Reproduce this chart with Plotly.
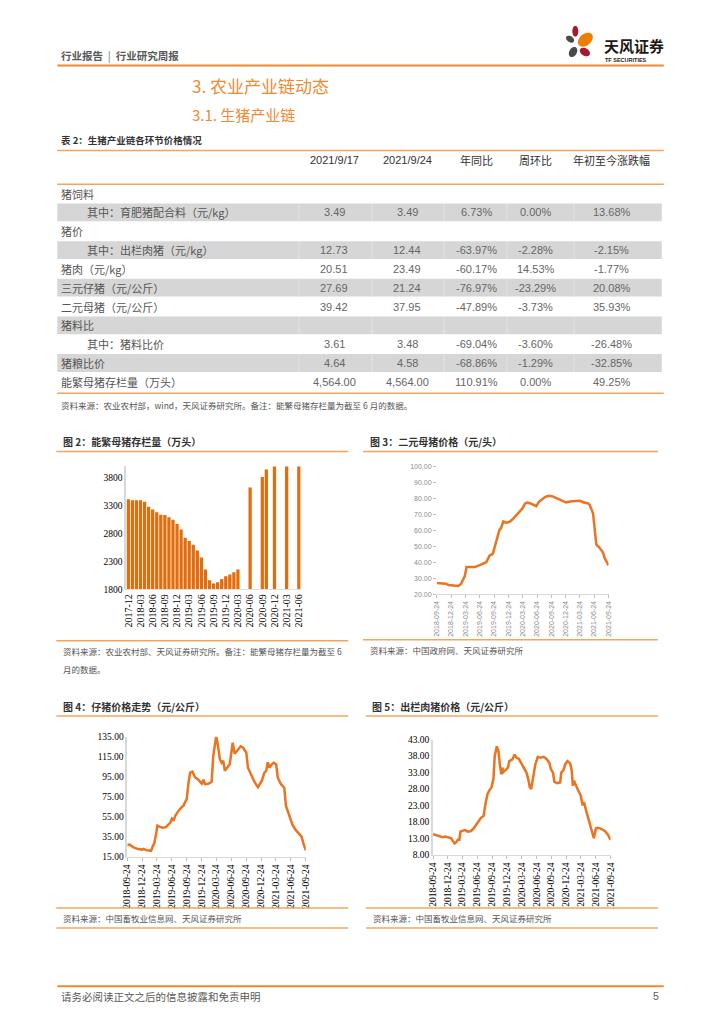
import math
import plotly.graph_objects as go

W, H = 724, 1024
CJK = "Noto Sans CJK SC"
SERIF = "Liberation Serif"
SANS = "Liberation Sans"
ORANGE_BAR = "#E46C0A"
ORANGE_LINE = "#EA7420"
RULE = "#F5A45C"

# ---------------- data ----------------
months_c2 = ["2017-12", "2018-01", "2018-02", "2018-03", "2018-04", "2018-05", "2018-06",
             "2018-07", "2018-08", "2018-09", "2018-10", "2018-11", "2018-12", "2019-01",
             "2019-02", "2019-03", "2019-04", "2019-05", "2019-06", "2019-07", "2019-08",
             "2019-09", "2019-10", "2019-11", "2019-12", "2020-01", "2020-02", "2020-03",
             "2020-04", "2020-05", "2020-06", "2020-07", "2020-08", "2020-09", "2020-10",
             "2020-11", "2020-12", "2021-01", "2021-02", "2021-03", "2021-04", "2021-05",
             "2021-06"]
sows_c2 = [3420, 3400, 3400, 3400, 3375, 3285, 3235, 3185, 3140, 3135, 3095, 3050, 2975, 2875,
           2725, 2670, 2600, 2495, 2370, 2155, 1960, 1905, 1925, 1985, 2035, 2065, 2105, 2155,
           None, None, 3630, None, None, 3820, 3955, None, 4161, None, None, 4318, None, None,
           4564]
ticks_c2 = ["2017-12", "2018-03", "2018-06", "2018-09", "2018-12", "2019-03", "2019-06",
            "2019-09", "2019-12", "2020-03", "2020-06", "2020-09", "2020-12", "2021-03", "2021-06"]
yticks_c2 = [1800, 2300, 2800, 3300, 3800]

dates_c3 = ["2018-09-24", "2018-10-25", "2018-11-20", "2018-12-06", "2018-12-27", "2019-01-28",
            "2019-02-07", "2019-02-24", "2019-03-11", "2019-03-21", "2019-04-01", "2019-04-22",
            "2019-05-23", "2019-06-24", "2019-07-15", "2019-08-05", "2019-08-26", "2019-09-16",
            "2019-09-26", "2019-10-17", "2019-10-28", "2019-11-07", "2019-11-22", "2019-12-09",
            "2019-12-30", "2020-01-20", "2020-02-10", "2020-03-02", "2020-03-23", "2020-04-09",
            "2020-04-23", "2020-05-14", "2020-06-04", "2020-06-19", "2020-07-06", "2020-07-27",
            "2020-08-17", "2020-09-07", "2020-09-28", "2020-10-19", "2020-11-09", "2020-11-30",
            "2020-12-27", "2021-01-21", "2021-02-22", "2021-03-25", "2021-04-15", "2021-05-17",
            "2021-05-27", "2021-06-17", "2021-06-28", "2021-07-08", "2021-07-25", "2021-08-09",
            "2021-08-19", "2021-08-30", "2021-09-09", "2021-09-24"]
sow_price_c3 = [27.0, 27.0, 26.6, 25.8, 25.6, 25.4, 25.2, 26.4, 29.3, 31.4, 37.0, 37.1,
                37.0, 38.2, 39.0, 40.0, 44.2, 45.4, 48.9, 56.2, 60.3, 61.3, 65.5, 64.8,
                65.2, 66.9, 69.0, 71.7, 73.7, 76.8, 77.4, 76.8, 75.6, 75.2, 77.9, 79.5,
                81.0, 81.6, 81.4, 80.5, 79.5, 78.3, 77.4, 78.0, 78.3, 78.5, 77.6, 76.8,
                75.8, 70.6, 60.3, 51.0, 49.5, 47.5, 46.2, 42.7, 40.7, 37.95]

dates_c4 = ["2018-09-24", "2018-10-08", "2018-11-04", "2018-11-30", "2018-12-24", "2019-01-03",
            "2019-01-18", "2019-02-07", "2019-02-17", "2019-02-27", "2019-03-09", "2019-03-20",
            "2019-03-28", "2019-04-09", "2019-04-29", "2019-05-20", "2019-06-05", "2019-06-15",
            "2019-06-25", "2019-07-05", "2019-07-15", "2019-08-05", "2019-08-25", "2019-09-04",
            "2019-09-14", "2019-09-24", "2019-10-05", "2019-10-15", "2019-10-29", "2019-11-14",
            "2019-12-04", "2019-12-25", "2020-01-04", "2020-01-14", "2020-02-03", "2020-02-24",
            "2020-03-05", "2020-03-15", "2020-03-23", "2020-03-31", "2020-04-14", "2020-04-25",
            "2020-05-05", "2020-05-15", "2020-05-29", "2020-06-14", "2020-06-24", "2020-07-02",
            "2020-07-15", "2020-08-04", "2020-08-20", "2020-09-04", "2020-09-24", "2020-10-04",
            "2020-10-24", "2020-11-14", "2020-12-04", "2020-12-14", "2020-12-28", "2021-01-13",
            "2021-01-24", "2021-02-03", "2021-02-13", "2021-02-27", "2021-03-11", "2021-03-26",
            "2021-04-05", "2021-04-25", "2021-05-15", "2021-05-25", "2021-06-09", "2021-06-25",
            "2021-07-05", "2021-07-25", "2021-08-15", "2021-08-29", "2021-09-10", "2021-09-24"]
piglet_c4 = [26.6, 27.0, 24.0, 22.5, 22.0, 22.8, 21.5, 20.6, 20.8, 25.0, 28.5, 38.0,
             46.0, 45.0, 44.0, 44.5, 47.5, 49.0, 53.0, 51.0, 55.5, 61.0, 64.5, 66.0,
             69.5, 72.5, 89.0, 99.0, 100.0, 94.5, 92.0, 88.0, 92.0, 87.5, 88.0, 90.0,
             116.0, 125.0, 135.5, 129.0, 113.0, 109.0, 111.0, 101.0, 104.0, 107.5, 119.0, 129.0,
             118.0, 122.0, 125.5, 124.0, 119.0, 104.0, 96.0, 89.5, 84.5, 87.5, 91.0, 99.0,
             101.0, 109.5, 104.0, 107.5, 109.0, 107.5, 94.0, 87.5, 84.0, 66.0, 58.0, 51.5,
             46.5, 41.5, 38.0, 35.0, 28.0, 21.24]

dates_c5 = ["2018-09-24", "2018-10-14", "2018-11-04", "2018-11-24", "2018-12-08", "2018-12-25",
            "2019-01-14", "2019-01-24", "2019-02-04", "2019-02-14", "2019-02-24", "2019-03-06",
            "2019-03-12", "2019-03-27", "2019-04-10", "2019-04-26", "2019-05-17", "2019-06-02",
            "2019-06-16", "2019-06-30", "2019-07-17", "2019-08-02", "2019-08-16", "2019-08-27",
            "2019-09-06", "2019-09-20", "2019-10-02", "2019-10-10", "2019-10-23", "2019-11-02",
            "2019-11-12", "2019-11-20", "2019-11-26", "2019-12-03", "2019-12-17", "2019-12-31",
            "2020-01-08", "2020-01-27", "2020-02-10", "2020-02-22", "2020-03-07", "2020-03-24",
            "2020-04-07", "2020-04-23", "2020-05-04", "2020-05-14", "2020-05-22", "2020-06-03",
            "2020-06-17", "2020-07-02", "2020-07-18", "2020-08-07", "2020-08-28", "2020-09-11",
            "2020-09-21", "2020-10-04", "2020-10-12", "2020-10-28", "2020-11-17", "2020-11-24",
            "2020-12-08", "2020-12-18", "2021-01-01", "2021-01-18", "2021-01-28", "2021-02-03",
            "2021-02-11", "2021-02-23", "2021-03-10", "2021-03-24", "2021-04-05", "2021-04-13",
            "2021-04-26", "2021-05-10", "2021-05-20", "2021-05-30", "2021-06-13", "2021-06-26",
            "2021-07-10", "2021-07-30", "2021-08-20", "2021-09-09", "2021-09-24"]
hog_c5 = [14.2, 14.0, 13.6, 13.3, 13.5, 13.3, 13.0, 12.2, 11.4, 11.8, 12.5, 12.5,
          15.0, 15.3, 15.5, 15.0, 15.2, 16.0, 17.2, 18.0, 19.2, 19.8, 24.0, 26.5,
          27.5, 28.5, 31.0, 38.0, 41.0, 39.5, 35.0, 32.5, 34.5, 33.2, 33.8, 34.5,
          36.5, 37.0, 38.5, 37.5, 37.2, 35.5, 34.5, 33.0, 31.0, 28.5, 28.0, 32.0,
          35.5, 37.8, 37.5, 37.8, 37.0, 36.0, 34.0, 33.0, 30.2, 29.8, 30.0, 33.0,
          33.8, 35.5, 36.5, 35.8, 33.5, 29.0, 30.5, 29.0, 27.5, 26.0, 23.0, 24.0,
          21.5, 19.0, 18.0, 16.0, 13.0, 16.0, 16.2, 15.8, 15.2, 14.0, 12.44]

date_ticks = ["2018-09-24", "2018-12-24", "2019-03-24", "2019-06-24", "2019-09-24", "2019-12-24",
              "2020-03-24", "2020-06-24", "2020-09-24", "2020-12-24", "2021-03-24", "2021-06-24",
              "2021-09-24"]
yticks_c3 = [20, 30, 40, 50, 60, 70, 80, 90, 100]
yticks_c4 = [15, 35, 55, 75, 95, 115, 135]
yticks_c5 = [8, 13, 18, 23, 28, 33, 38, 43]

table_header = ["2021/9/17", "2021/9/24", "年同比", "周环比", "年初至今涨跌幅"]
row_labels = ["猪饲料", "其中：育肥猪配合料（元/kg）", "猪价", "其中：出栏肉猪（元/kg）",
              "猪肉（元/kg）", "三元仔猪（元/公斤）", "二元母猪（元/公斤）", "猪料比",
              "其中：猪料比价", "猪粮比价", "能繁母猪存栏量（万头）"]
col_0917 = ["", "3.49", "", "12.73", "20.51", "27.69", "39.42", "", "3.61", "4.64", "4,564.00"]
col_0924 = ["", "3.49", "", "12.44", "23.49", "21.24", "37.95", "", "3.48", "4.58", "4,564.00"]
col_yoy = ["", "6.73%", "", "-63.97%", "-60.17%", "-76.97%", "-47.89%", "", "-69.04%", "-68.86%", "110.91%"]
col_wow = ["", "0.00%", "", "-2.28%", "14.53%", "-23.29%", "-3.73%", "", "-3.60%", "-1.29%", "0.00%"]
col_ytd = ["", "13.68%", "", "-2.15%", "-1.77%", "20.08%", "35.93%", "", "-26.48%", "-32.85%", "49.25%"]
indented_rows = [1, 3, 8]
shaded_rows = [1, 3, 5, 7, 9]


# ---------------- helpers ----------------
def px(x):
    return x / W


def py(y):
    return 1 - y / H


annotations = []
shapes = []


def txt(x, y, s, size, color="#404040", family=CJK, anchor="left", bold=False):
    annotations.append(dict(
        x=px(x), y=py(y), xref="paper", yref="paper", text=("<b>%s</b>" % s) if bold else s,
        showarrow=False, xanchor=anchor, yanchor="middle",
        font=dict(family=family, size=size, color=color), borderpad=0))


def hline(x0, x1, y, color=RULE, width=1.5):
    shapes.append(dict(type="line", xref="paper", yref="paper", x0=px(x0), x1=px(x1),
                       y0=py(y), y1=py(y), line=dict(color=color, width=width)))


def rect(x0, x1, y0, y1, color):
    shapes.append(dict(type="rect", xref="paper", yref="paper", x0=px(x0), x1=px(x1),
                       y0=py(y1), y1=py(y0), fillcolor=color, line=dict(width=0), layer="below"))


def petal(cx, cy, rx, ry, ang, color, n=36):
    a = math.radians(ang)
    pts = []
    for i in range(n):
        t = 2 * math.pi * i / n
        ex, ey = rx * math.cos(t), ry * math.sin(t)
        X = cx + ex * math.cos(a) - ey * math.sin(a)
        Y = cy + ex * math.sin(a) + ey * math.cos(a)
        pts.append("%.5f,%.5f" % (px(X), py(Y)))
    shapes.append(dict(type="path", xref="paper", yref="paper",
                       path="M" + " L".join(pts) + " Z", fillcolor=color, line=dict(width=0)))


# ---------------- page header ----------------
txt(56, 51, "行业报告 <span style='color:#999999'> | </span> 行业研究周报", 10.5, "#595959", bold=True)
hline(53, 668, 61, "#EE8B2E", 2)
petal(578.3, 26.5, 3.0, 5.5, 0, "#A6192E")
petal(573.0, 34.5, 4.5, 3.0, 35, "#4A4A4A")
petal(588.5, 35.0, 8.5, 5.8, -40, "#EE7D00")
petal(576.0, 47.5, 5.5, 3.8, -60, "#4A4A4A")
petal(588.0, 47.5, 5.5, 3.8, 30, "#A6192E")
txt(606, 41, "天风证券", 15, "#231815", bold=True)
txt(607, 56, "TF SECURITIES", 5.5, "#231815", family=SANS, bold=True)

txt(189, 81, "3. 农业产业链动态", 17, "#F08A32")
txt(189, 111, "3.1. 生猪产业链", 15, "#F08A32")

# ---------------- table ----------------
txt(56, 136, "表 2：生猪产业链各环节价格情况", 9.5, "#333333", bold=True)
hline(53, 668, 147)
hline(53, 668, 181)
hline(53, 668, 392)
col_x = [334, 408, 478, 538, 615]
for cx, h in zip(col_x, table_header):
    txt(cx, 157, h, 11, "#333333", family=CJK if not h[0].isdigit() else SANS, anchor="center")

row_h = 19
top = 181
for i, lab in enumerate(row_labels):
    yc = top + row_h * (i + 0.5)
    if i in shaded_rows:
        rect(53, 666, top + row_h * i + 0.5, top + row_h * (i + 1) - 0.5, "#D6D6D6")
        for sx in [298, 372, 445, 509, 577]:
            shapes.append(dict(type="line", xref="paper", yref="paper", x0=px(sx), x1=px(sx),
                               y0=py(top + row_h * i + 0.5), y1=py(top + row_h * (i + 1) - 0.5),
                               line=dict(color="#E4E4E4", width=1)))
    lx = 82 if i in indented_rows else 56
    txt(lx, yc, lab, 11, "#555555")
    for cx, col in zip(col_x, [col_0917, col_0924, col_yoy, col_wow, col_ytd]):
        if col[i]:
            txt(cx, yc, col[i], 11, "#666666", family=SANS, anchor="center")

txt(56, 404, "资料来源：农业农村部，wind，天风证券研究所。备注：能繁母猪存栏量为截至 6 月的数据。", 8.5, "#555555")

# ---------------- chart frames ----------------
txt(58, 441, "图 2：能繁母猪存栏量（万头）", 10, "#333333", bold=True)
hline(52, 348, 451)
hline(52, 348, 642)
txt(58, 652, "资料来源：农业农村部、天风证券研究所。备注：能繁母猪存栏量为截至 6", 8.5, "#555555")
txt(58, 671, "月的数据。", 8.5, "#555555")

txt(369, 441, "图 3：二元母猪价格（元/头）", 10, "#333333", bold=True)
hline(363, 662, 451)
hline(363, 662, 641)
txt(369, 651, "资料来源：中国政府网、天风证券研究所", 8.5, "#555555")

txt(58, 708, "图 4：仔猪价格走势（元/公斤）", 10, "#333333", bold=True)
hline(52, 348, 718)
hline(52, 348, 912)
hline(52, 348, 932)
txt(58, 922, "资料来源：中国畜牧业信息网、天风证券研究所", 8.5, "#555555")

txt(371, 708, "图 5：出栏肉猪价格（元/公斤）", 10, "#333333", bold=True)
hline(366, 662, 718)
hline(366, 662, 912)
hline(366, 662, 932)
txt(372, 922, "资料来源：中国畜牧业信息网、天风证券研究所", 8.5, "#555555")

# ---------------- footer ----------------
hline(53, 668, 991, "#EE8B2E", 2)
txt(56, 1001, "请务必阅读正文之后的信息披露和免责申明", 10.5, "#595959")
txt(664, 1001, "5", 10.5, "#595959", family=SANS, anchor="right")

# ---------------- traces ----------------
fig = go.Figure()
fig.add_trace(go.Bar(x=months_c2, y=sows_c2, xaxis="x", yaxis="y", marker_color=ORANGE_BAR,
                     marker_line=dict(width=0), width=0.8, showlegend=False))
fig.add_trace(go.Scatter(x=dates_c3, y=sow_price_c3, xaxis="x2", yaxis="y2", mode="lines",
                         line=dict(color=ORANGE_LINE, width=2.5), showlegend=False))
fig.add_trace(go.Scatter(x=dates_c4, y=piglet_c4, xaxis="x3", yaxis="y3", mode="lines",
                         line=dict(color=ORANGE_LINE, width=2.5), showlegend=False))
fig.add_trace(go.Scatter(x=dates_c5, y=hog_c5, xaxis="x4", yaxis="y4", mode="lines",
                         line=dict(color=ORANGE_LINE, width=2.5), showlegend=False))

serif_tick = dict(family=SERIF, size=9.5, color="#000000")
gray_tick = dict(family=SANS, size=7, color="#8C8C8C")

layout = dict(
    width=W, height=H, margin=dict(l=0, r=0, t=0, b=0),
    paper_bgcolor="white", plot_bgcolor="white", bargap=0.2,
    annotations=annotations, shapes=shapes, showlegend=False,
    xaxis=dict(domain=[px(123), px(300)], anchor="y", type="category", range=[-0.5, 42.5],
               tickmode="array", tickvals=ticks_c2, ticktext=ticks_c2, tickangle=-90,
               tickfont=dict(family=SERIF, size=10, color="#000000"), showgrid=False,
               showline=True, linecolor="#E0E0E0", linewidth=1, ticks=""),
    yaxis=dict(domain=[py(590), py(466)], anchor="x", range=[1800, 4010], tickmode="array",
               tickvals=yticks_c2, ticktext=[str(v) for v in yticks_c2], tickfont=serif_tick,
               showgrid=False, zeroline=False, showline=True, linecolor="#D9D9D9", linewidth=2,
               ticks=""),
    xaxis2=dict(domain=[px(438), px(612)], anchor="y2", type="date",
                range=["2018-09-24", "2021-09-24"], tickmode="array", tickvals=date_ticks,
                ticktext=date_ticks, tickangle=-90, tickfont=gray_tick, showgrid=False,
                showline=True, linecolor="#D9D9D9", linewidth=1, ticks="outside", ticklen=3,
                tickcolor="#BFBFBF"),
    yaxis2=dict(domain=[py(595), py(466)], anchor="x2", range=[20, 100], tickmode="array",
                tickvals=yticks_c3, ticktext=["%.2f" % v for v in yticks_c3], tickfont=gray_tick,
                showgrid=False, zeroline=False, showline=False, ticks="outside", ticklen=3,
                tickcolor="#BFBFBF"),
    xaxis3=dict(domain=[px(124), px(305)], anchor="y3", type="date",
                range=["2018-09-24", "2021-09-24"], tickmode="array", tickvals=date_ticks,
                ticktext=date_ticks, tickangle=-90, tickfont=serif_tick, showgrid=False,
                showline=True, linecolor="#D9D9D9", linewidth=1, ticks="outside", ticklen=3,
                tickcolor="#BFBFBF"),
    yaxis3=dict(domain=[py(860), py(739)], anchor="x3", range=[15, 135], tickmode="array",
                tickvals=yticks_c4, ticktext=["%.2f" % v for v in yticks_c4], tickfont=serif_tick,
                showgrid=False, zeroline=False, showline=True, linecolor="#D9D9D9", linewidth=1.5,
                ticks=""),
    xaxis4=dict(domain=[px(434), px(614)], anchor="y4", type="date",
                range=["2018-09-24", "2021-09-24"], tickmode="array", tickvals=date_ticks,
                ticktext=date_ticks, tickangle=-90, tickfont=serif_tick, showgrid=False,
                showline=True, linecolor="#D9D9D9", linewidth=1, ticks="outside", ticklen=3,
                tickcolor="#BFBFBF"),
    yaxis4=dict(domain=[py(858), py(742)], anchor="x4", range=[8, 43], tickmode="array",
                tickvals=yticks_c5, ticktext=["%.2f" % v for v in yticks_c5], tickfont=serif_tick,
                showgrid=False, zeroline=False, showline=True, linecolor="#D9D9D9", linewidth=1.5,
                ticks=""),
)
fig.update_layout(**layout)
fig.write_html("out.html", config={"displayModeBar": False},
               post_script="document.body.style.margin='0px';document.body.style.overflow='hidden';")
